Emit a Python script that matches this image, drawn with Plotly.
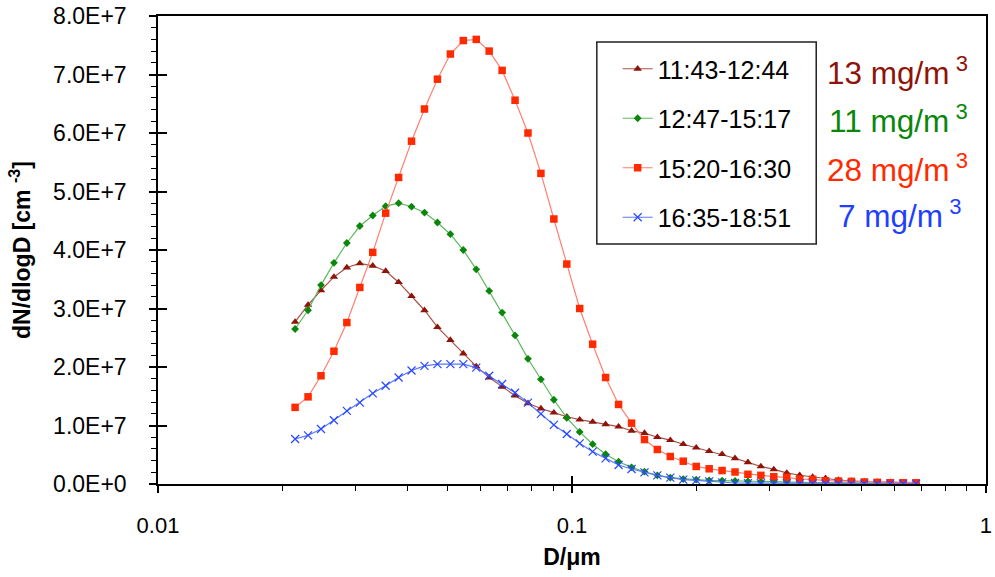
import plotly.graph_objects as go

# ---------------- data ----------------
D_um = [0.02144, 0.02304, 0.02476, 0.02661, 0.02859, 0.03073, 0.03302, 0.03548, 0.03813, 0.04097,
        0.04403, 0.04732, 0.05085, 0.05464, 0.05872, 0.06310, 0.06781, 0.07287, 0.07830, 0.08414,
        0.09042, 0.09717, 0.1044, 0.1122, 0.1206, 0.1296, 0.1393, 0.1497, 0.1608, 0.1728,
        0.1857, 0.1996, 0.2145, 0.2305, 0.2477, 0.2661, 0.2860, 0.3073, 0.3303, 0.3549,
        0.3814, 0.4098, 0.4404, 0.4733, 0.5086, 0.5465, 0.5873, 0.6311, 0.6782]

# dN/dlogD in units of 1E+7 cm^-3
s_1143 = [2.77, 3.06, 3.31, 3.54, 3.70, 3.77, 3.73, 3.64, 3.45, 3.21,
          2.97, 2.68, 2.46, 2.23, 2.01, 1.82, 1.66, 1.51, 1.38, 1.29,
          1.22, 1.15, 1.10, 1.06, 1.02, 0.98, 0.91, 0.87, 0.80, 0.75,
          0.68, 0.62, 0.56, 0.51, 0.44, 0.37, 0.30, 0.25, 0.19, 0.15,
          0.12, 0.097, 0.068, 0.051, 0.039, 0.034, 0.029, 0.022, 0.022]

s_1247 = [2.65, 2.97, 3.40, 3.78, 4.12, 4.41, 4.59, 4.75, 4.80, 4.74,
          4.64, 4.47, 4.27, 4.00, 3.67, 3.30, 2.93, 2.54, 2.14, 1.79,
          1.44, 1.13, 0.89, 0.68, 0.51, 0.38, 0.285, 0.21, 0.148, 0.108,
          0.085, 0.074, 0.063, 0.057, 0.051, 0.045, 0.040, 0.036, 0.032, 0.028,
          0.025, 0.022, 0.020, 0.018, 0.016, 0.014, 0.013, 0.012, 0.011]

s_1520 = [1.31, 1.49, 1.85, 2.27, 2.76, 3.36, 3.96, 4.63, 5.24, 5.86,
          6.41, 6.92, 7.35, 7.58, 7.60, 7.40, 7.07, 6.56, 6.00, 5.31,
          4.53, 3.76, 3.00, 2.39, 1.82, 1.36, 1.04, 0.76, 0.59, 0.47,
          0.39, 0.30, 0.26, 0.23, 0.205, 0.166, 0.148, 0.125, 0.114, 0.085,
          0.080, 0.056, 0.051, 0.045, 0.035, 0.029, 0.022, 0.022, 0.022]

s_1635 = [0.77, 0.83, 0.94, 1.09, 1.25, 1.39, 1.55, 1.68, 1.82, 1.94,
          2.02, 2.05, 2.05, 2.05, 1.99, 1.85, 1.71, 1.56, 1.39, 1.20,
          1.01, 0.855, 0.695, 0.553, 0.439, 0.325, 0.256, 0.199, 0.148, 0.108,
          0.074, 0.063, 0.046, 0.029, 0.017, 0.015, 0.013, 0.012, 0.011, 0.010,
          0.009, 0.008, 0.008, 0.007, 0.007, 0.006, 0.006, 0.005, 0.005]

series_names = ["11:43-12:44", "12:47-15:17", "15:20-16:30", "16:35-18:51"]
concentrations = ["13", "11", "28", "7"]

y_tickvals = [0, 1, 2, 3, 4, 5, 6, 7, 8]
y_ticktext = ["0.0E+0", "1.0E+7", "2.0E+7", "3.0E+7", "4.0E+7",
              "5.0E+7", "6.0E+7", "7.0E+7", "8.0E+7"]
x_tickvals = [0.01, 0.1, 1]
x_ticktext = ["0.01", "0.1", "1"]
x_minorvals = [0.02, 0.03, 0.04, 0.05, 0.06, 0.07, 0.08, 0.09,
               0.2, 0.3, 0.4, 0.5, 0.6, 0.7, 0.8, 0.9]

# ---------------- styles ----------------
FONT = "Liberation Sans, Arial, sans-serif"
styles = [
    dict(marker=dict(symbol="triangle-up", size=7.5, color="#8E1409"),
         line=dict(color="#A8524A", width=1.2), text="#8E1409"),
    dict(marker=dict(symbol="diamond", size=6, color="#0A870A"),
         line=dict(color="#5DB85D", width=1.2), text="#0A870A"),
    dict(marker=dict(symbol="square", size=7.5, color="#FF2A00"),
         line=dict(color="#FF7F70", width=1.2), text="#FF2A00"),
    dict(marker=dict(symbol="x-thin", size=8, color="#2848FF",
                     line=dict(color="#2848FF", width=1.2)),
         line=dict(color="#5A78FF", width=1.2), text="#1F3FFF"),
]

fig = go.Figure()
for name, vals, st in zip(series_names, [s_1143, s_1247, s_1520, s_1635], styles):
    fig.add_trace(go.Scatter(x=D_um, y=vals, mode="lines+markers", name=name,
                             legendgroup=name, marker=st["marker"], line=st["line"],
                             hoverinfo="skip"))

# invisible helper traces so the overlay axes (crossing major ticks) are drawn
fig.add_trace(go.Scatter(x=D_um[:1], y=s_1143[:1], xaxis="x", yaxis="y2", mode="markers",
                         marker=dict(opacity=0), showlegend=False, hoverinfo="skip"))
fig.add_trace(go.Scatter(x=D_um[:1], y=s_1143[:1], xaxis="x2", yaxis="y", mode="markers",
                         marker=dict(opacity=0), showlegend=False, hoverinfo="skip"))

L, R, T, B = 158, 3, 16, 93
W, H = 995, 577
pw, ph = W - L - R, H - T - B


def px_x(p):
    return (p - L) / pw


def px_y(p):
    return (H - B - p) / ph


XR = [-2, 0.0002]

fig.update_layout(
    width=W, height=H,
    margin=dict(l=L, r=R, t=T, b=B, pad=0),
    paper_bgcolor="white", plot_bgcolor="white",
    font=dict(family=FONT, color="black"),
    showlegend=True,
    legend=dict(x=px_x(621), y=px_y(46), xanchor="left", yanchor="top",
                bgcolor="rgba(0,0,0,0)", borderwidth=0,
                font=dict(family=FONT, size=25, color="black"),
                tracegroupgap=14, itemwidth=30, traceorder="grouped"),
    xaxis=dict(type="log", range=XR, tickmode="array", tickvals=x_tickvals,
               ticktext=x_ticktext, ticks="outside", ticklen=7, tickwidth=1.5,
               tickcolor="black", showline=True, linecolor="black", linewidth=1.5,
               mirror=True, showgrid=False, zeroline=False, ticklabeloverflow="allow",
               tickfont=dict(family=FONT, size=22), ticklabelstandoff=14,
               minor=dict(tickmode="array", tickvals=x_minorvals, ticks="outside",
                          ticklen=5, tickwidth=1.2, tickcolor="black", showgrid=False),
               title=dict(text="<b>D/μm</b>", font=dict(family=FONT, size=23), standoff=12)),
    yaxis=dict(range=[0, 8], tickmode="array", tickvals=y_tickvals, ticktext=y_ticktext,
               ticks="outside", ticklen=7, tickwidth=1.5, tickcolor="black",
               showline=True, linecolor="black", linewidth=1.5, mirror=True,
               showgrid=False, zeroline=False, ticklabeloverflow="allow",
               tickfont=dict(family=FONT, size=23), ticklabelstandoff=18,
               minor=dict(dtick=0.2, tick0=0, ticks="outside", ticklen=5, tickwidth=1.2,
                          tickcolor="black", showgrid=False),
               title=dict(text="<b>dN/dlogD [cm <sup>-3</sup>]</b>",
                          font=dict(family=FONT, size=23), standoff=16)),
    xaxis2=dict(type="log", range=XR, overlaying="x", anchor="y", side="bottom",
                tickmode="array", tickvals=x_tickvals, ticks="inside", ticklen=8,
                tickwidth=1.5, tickcolor="black", showticklabels=False, showline=False,
                showgrid=False, zeroline=False),
    yaxis2=dict(range=[0, 8], overlaying="y", anchor="x", side="left",
                tickmode="array", tickvals=y_tickvals, ticks="inside", ticklen=9,
                tickwidth=1.5, tickcolor="black", showticklabels=False, showline=False,
                showgrid=False, zeroline=False),
)

# legend frame
fig.add_shape(type="rect", xref="paper", yref="paper",
              x0=px_x(600), x1=px_x(821), y0=px_y(244), y1=px_y(42),
              line=dict(color="#222222", width=1.5), fillcolor="white", layer="below")

# concentration labels
ann_y = [71, 119, 168, 214]
ann_x = [976, 976, 976, 970]
for c, st, yy, xx in zip(concentrations, styles, ann_y, ann_x):
    fig.add_annotation(text=f"{c} mg/m\u2009<sup>3</sup>", xref="paper", yref="paper",
                       x=px_x(xx), y=px_y(yy), xanchor="right", yanchor="middle",
                       showarrow=False, font=dict(family=FONT, size=31.5, color=st["text"]))

fig.write_html("out.html")
